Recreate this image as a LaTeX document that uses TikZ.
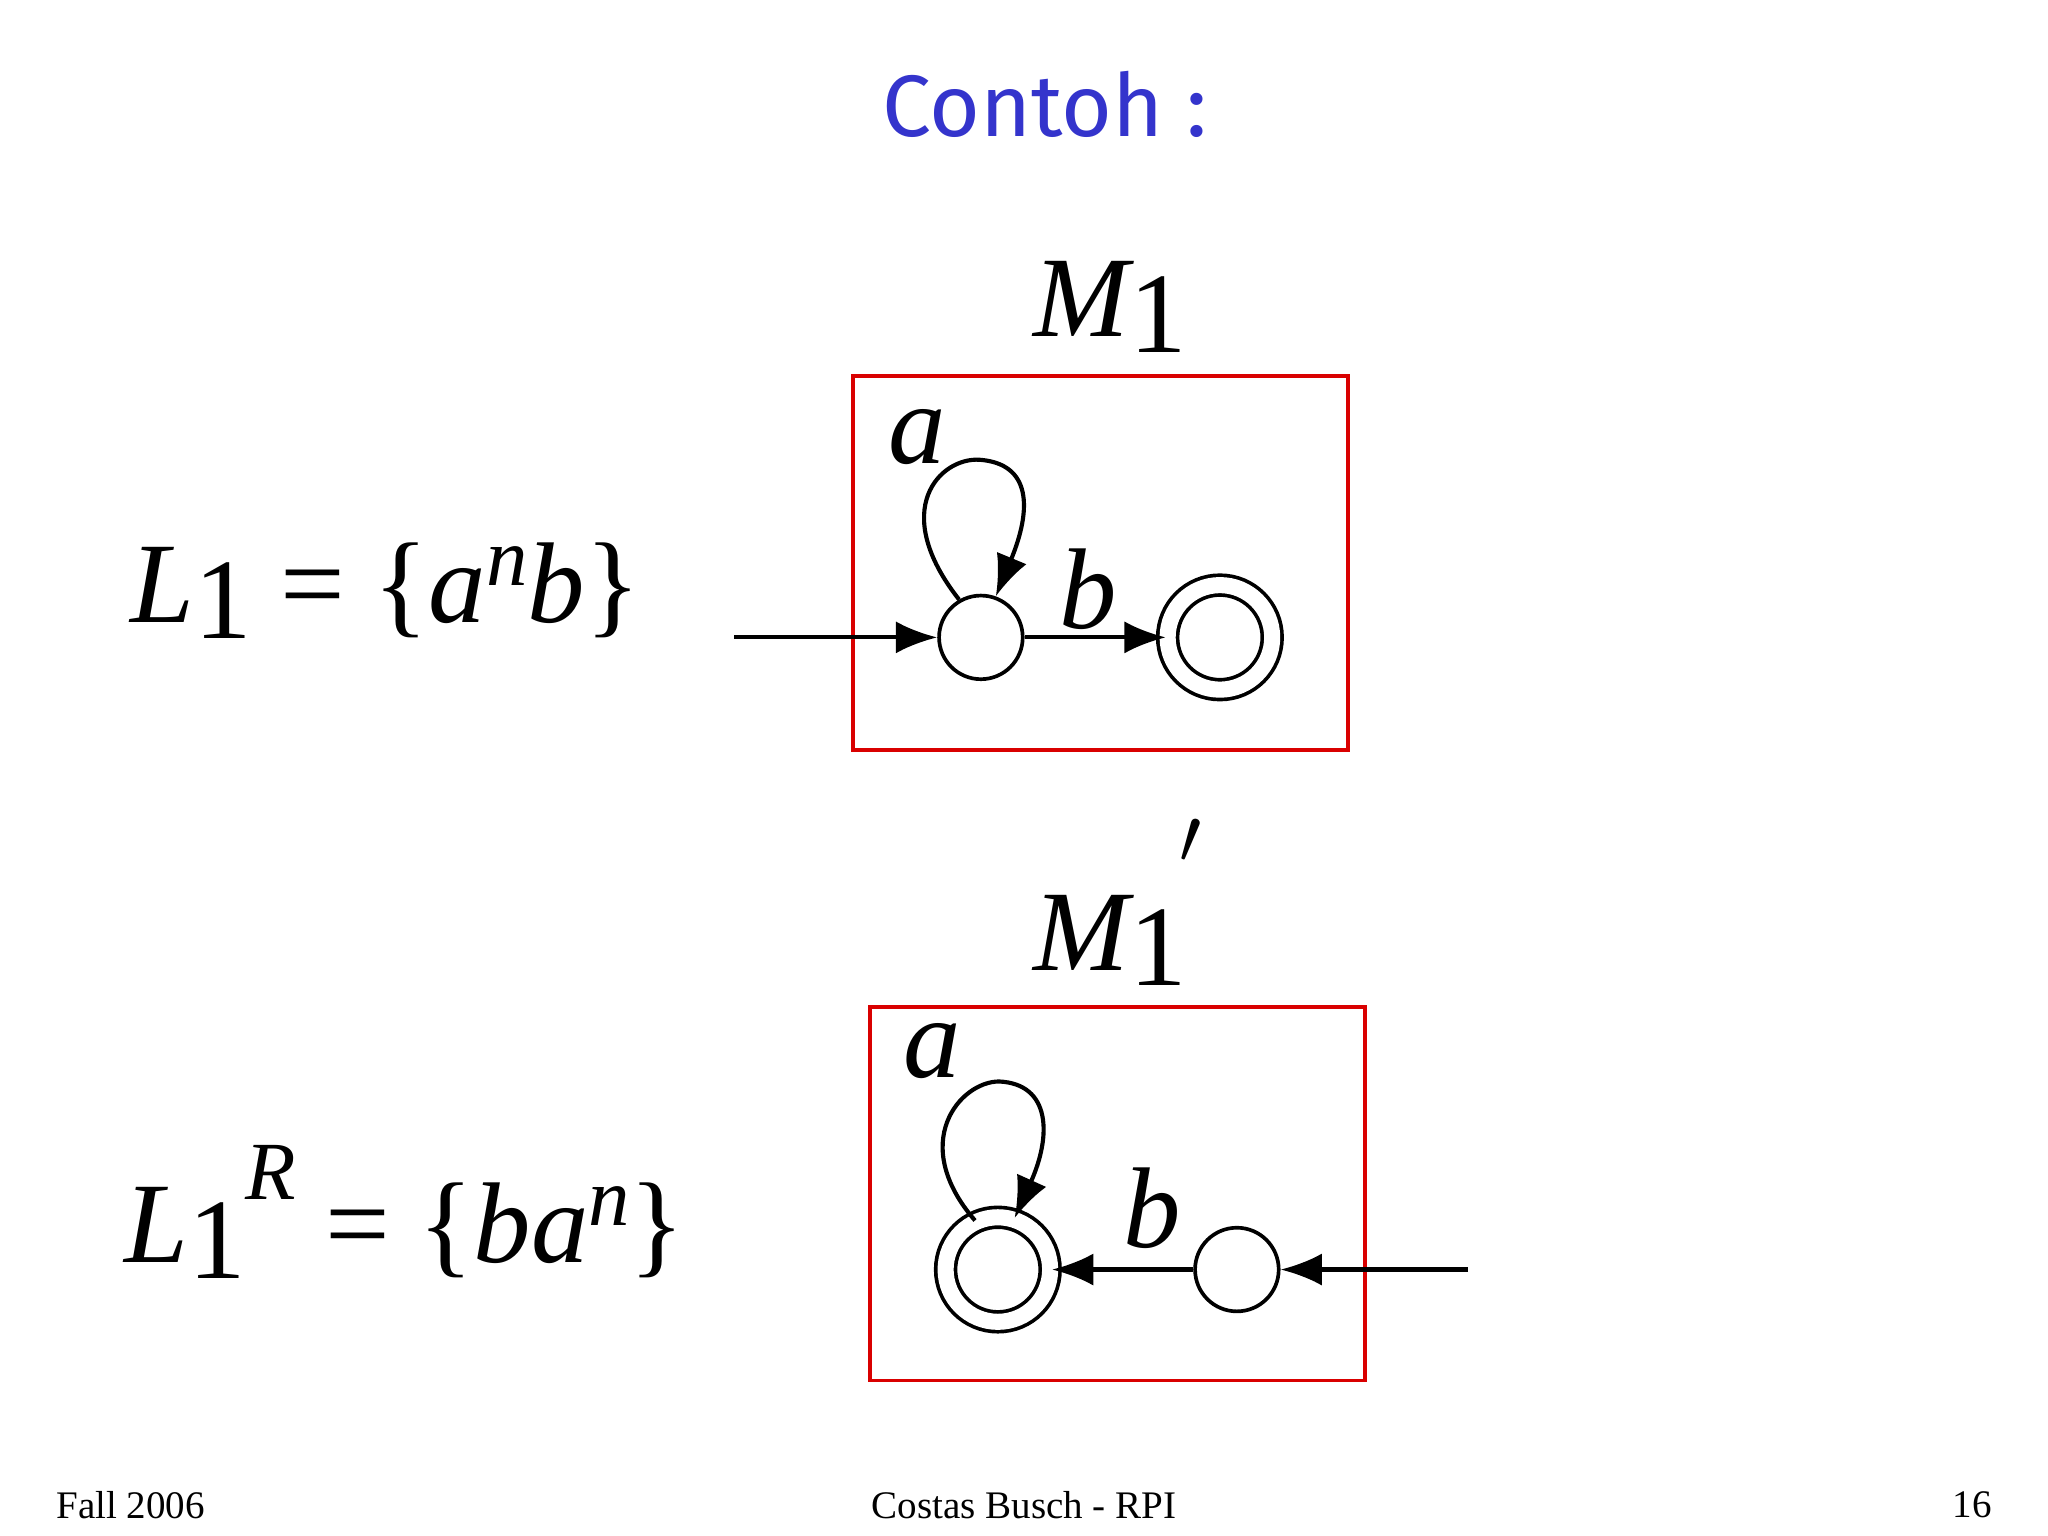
\documentclass[tikz,border=0pt]{standalone}
\usepackage{fontspec}
\setmainfont{Liberation Serif}
\newfontfamily\tms{Liberation Serif}
\newfontfamily\titlefont{Fira Sans}
\usetikzlibrary{arrows.meta}
\tikzset{x=0.01cm,y=-0.01cm,
 st/.style={circle,draw,line width=0.8pt,minimum size=0.64cm,inner sep=0pt},
 fin/.style={circle,draw,double,double distance=3.5pt,line width=0.8pt,minimum size=0.8cm,inner sep=0pt},
 edge/.style={line width=0.9pt,-{Latex[length=9pt,width=7pt]}},
 box/.style={draw=red!85!black,line width=0.8pt},
 big/.style={font=\tms\fontsize{25}{30}\selectfont\itshape},
 foot/.style={font=\tms\fontsize{8.5}{10}\selectfont}}
\begin{document}
\begin{tikzpicture}
\useasboundingbox (0,0) rectangle (1568,1176);
\node[font=\titlefont\fontsize{19}{24}\selectfont,text={rgb,255:red,52;green,52;blue,204}] (t) at (800,80) {Contoh :};
% top
\node[big] (m1) at (850,235) {M\raisebox{-0.3ex}{\upshape 1}};
\draw[box] (653,288) rectangle (1032,574);
\node[big] (l1) at (295,452) {L\raisebox{-0.3ex}{\upshape 1}\upshape{} = \{\itshape a\raisebox{0.7ex}{\fontsize{18}{20}\selectfont n}b\upshape\}};
\node[st] (q0) at (751,488) {};
\node[fin] (q1) at (934,488) {};
\coordinate (s0) at (562,488);
\draw[edge] (s0) -- (q0);
\draw[edge] (q0) -- node[above,big,pos=0.45,yshift=-2pt] (lb1) {b} (q1);
\draw[edge] (q0.120) .. controls (680,390) and (720,350) .. (750,352) .. controls (790,355) and (790,390) .. (q0.70);
\node[big] (la1) at (702,335) {a};
% bottom
\node[big] (m2) at (850,720) {M\raisebox{-0.3ex}{\upshape 1}};
\node[big] (pr) at (912,660) {\upshape$'$};
\draw[box] (666,771) rectangle (1045,1057);
\node[big] (l2) at (310,928) {L\raisebox{-0.3ex}{\upshape 1}\raisebox{1.2ex}{\fontsize{18}{20}\selectfont R}\upshape{} = \{\itshape ba\raisebox{0.7ex}{\fontsize{18}{20}\selectfont n}\upshape\}};
\node[fin] (p0) at (764,972) {};
\node[st] (p1) at (947,972) {};
\coordinate (s1) at (1124,972);
\draw[edge] (s1) -- (p1);
\draw[edge] (p1) -- (p0);
\node[big] (lb2) at (882,925) {b};
\draw[edge] (p0.115) .. controls (695,875) and (735,828) .. (765,828) .. controls (805,830) and (805,870) .. (p0.72);
\node[big] (la2) at (714,805) {a};
% footer
\node[foot] (f1) at (100,1152) {Fall 2006};
\node[foot] (f2) at (784,1152) {Costas Busch - RPI};
\node[foot] (f3) at (1510,1152) {16};
\end{tikzpicture}
\end{document}
